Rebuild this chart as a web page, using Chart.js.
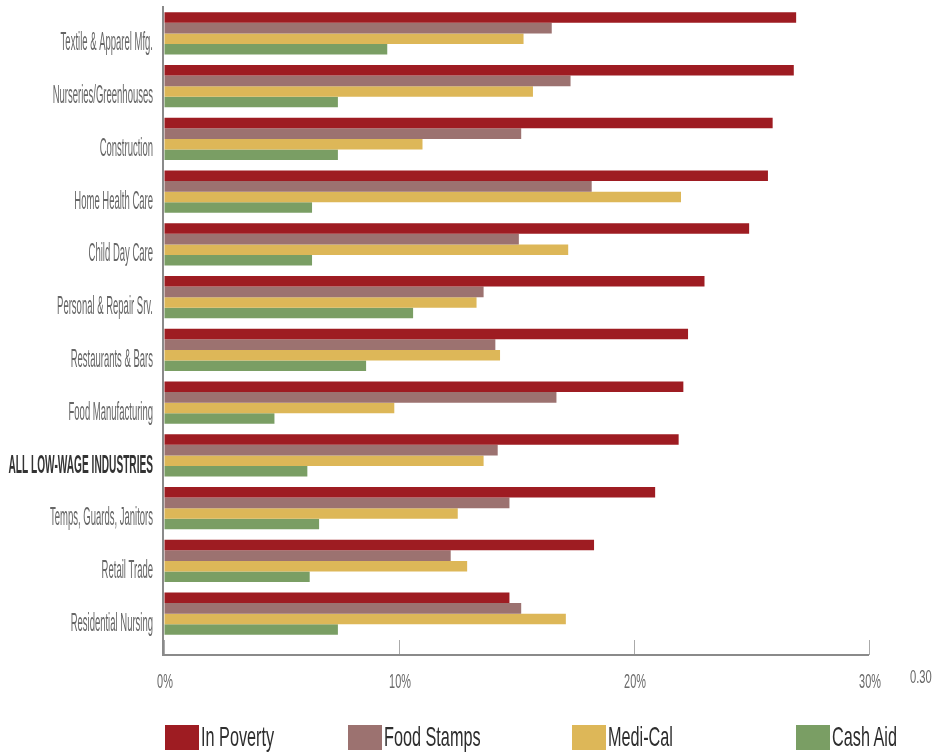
<!DOCTYPE html>
<html>
<head>
<meta charset="utf-8">
<script src="https://cdn.jsdelivr.net/npm/chart.js@4/dist/chart.umd.min.js"></script>
<style>
  html, body { margin: 0; padding: 0; background: #fff; }
  #wrap { position: relative; width: 934px; height: 755px; overflow: hidden; }
  #chart { position: absolute; left: 0; top: 0; }
  .legend-box { position: absolute; top: 725px; width: 34px; height: 25px; }
  .legend-text { position: absolute; top: 723px; line-height: 28px; white-space: nowrap;
    font-family: "Liberation Sans", Arial, sans-serif; font-size: 28px; color: #2e2e2e;
    transform: scaleX(0.58); transform-origin: left center; }
</style>
</head>
<body>
<div id="wrap">
  <canvas id="chart" width="934" height="755"></canvas>
  <div id="legend"></div>
</div>
<script>
// Data
const industries = [
  "Textile & Apparel Mfg.",
  "Nurseries/Greenhouses",
  "Construction",
  "Home Health Care",
  "Child Day Care",
  "Personal & Repair Srv.",
  "Restaurants & Bars",
  "Food Manufacturing",
  "ALL LOW-WAGE INDUSTRIES",
  "Temps, Guards, Janitors",
  "Retail Trade",
  "Residential Nursing"
];
const inPoverty  = [0.269, 0.268, 0.259, 0.257, 0.249, 0.230, 0.223, 0.221, 0.219, 0.209, 0.183, 0.147];
const foodStamps = [0.165, 0.173, 0.152, 0.182, 0.151, 0.136, 0.141, 0.167, 0.142, 0.147, 0.122, 0.152];
const mediCal    = [0.153, 0.157, 0.110, 0.220, 0.172, 0.133, 0.143, 0.098, 0.136, 0.125, 0.129, 0.171];
const cashAid    = [0.095, 0.074, 0.074, 0.063, 0.063, 0.106, 0.086, 0.047, 0.061, 0.066, 0.062, 0.074];
const xTickMax = 0.30;
const axisMaxLabel = "0.30";
const boldLabel = "ALL LOW-WAGE INDUSTRIES";

const FONT = "'Liberation Sans', Arial, sans-serif";

// Draw text squeezed horizontally (the original uses a very narrow typeface)
function drawNarrow(ctx, text, x, y, align, font, color, sx) {
  ctx.save();
  ctx.translate(x, y);
  ctx.scale(sx, 1);
  ctx.font = font;
  ctx.fillStyle = color;
  ctx.textAlign = align;
  ctx.textBaseline = "alphabetic";
  ctx.fillText(text, 0, 0);
  ctx.restore();
}

// Axis lines, tick labels and the extra max label
const axisLines = {
  id: "axisLines",
  afterDraw(chart) {
    const { ctx, chartArea, scales } = chart;
    const base = chartArea.bottom + 15;
    ctx.save();
    ctx.strokeStyle = "#8a8a8a";
    ctx.lineWidth = 2;
    ctx.beginPath();
    ctx.moveTo(chartArea.left - 1, chartArea.top - 1);
    ctx.lineTo(chartArea.left - 1, base);
    ctx.lineTo(chartArea.right, base);
    ctx.stroke();
    ctx.restore();

    // category labels
    const y = scales.y;
    y.ticks.forEach((t, i) => {
      const label = chart.data.labels[i];
      const py = y.getPixelForTick(i) + 17;
      if (label === boldLabel) {
        drawNarrow(ctx, label, y.right - 11, py + 1, "right", "bold 26px " + FONT, "#333", 0.39);
      } else {
        drawNarrow(ctx, label, y.right - 11, py, "right", "25px " + FONT, "#666", 0.38);
      }
    });

    // value labels
    const x = scales.x;
    x.ticks.forEach((t, i) => {
      const px = x.getPixelForTick(i);
      const text = Math.round(t.value * 100) + "%";
      drawNarrow(ctx, text, px + 1, base + 33, "center", "21px " + FONT, "#6a6a6a", 0.52);
    });
    drawNarrow(ctx, axisMaxLabel, chartArea.right + 41, base + 28, "left", "18px " + FONT, "#666", 0.62);
  }
};

const series = [
  { label: "In Poverty", data: inPoverty, color: "#9E1C22" },
  { label: "Food Stamps", data: foodStamps, color: "#9C7270" },
  { label: "Medi-Cal", data: mediCal, color: "#DDB758" },
  { label: "Cash Aid", data: cashAid, color: "#7A9E64" }
];

const chart = new Chart(document.getElementById("chart"), {
  type: "bar",
  data: {
    labels: industries,
    datasets: series.map((s) => ({
      label: s.label,
      data: s.data,
      backgroundColor: s.color,
      borderWidth: 0,
      barPercentage: 1,
      categoryPercentage: 0.8,
    })),
  },
  options: {
    indexAxis: "y",
    responsive: false,
    animation: false,
    layout: { padding: { top: 7, right: 65, left: 0, bottom: 0 } },
    plugins: {
      legend: { display: false },
      tooltip: { enabled: false },
    },
    scales: {
      x: {
        min: 0,
        max: xTickMax,
        ticks: { stepSize: 0.1, display: false },
        grid: {
          drawOnChartArea: false,
          drawTicks: true,
          tickLength: 15,
          color: "#aaa",
        },
        border: { display: false },
        afterFit: (s) => { s.height = 115; },
      },
      y: {
        ticks: { display: false },
        grid: { display: false },
        border: { display: false },
        afterFit: (s) => { s.width = 164; },
      },
    },
  },
  plugins: [axisLines],
});

// HTML legend below the chart
const legendLeft = [165, 348, 572, 796];
const legend = document.getElementById("legend");
chart.data.datasets.forEach((ds, i) => {
  const box = document.createElement("div");
  box.className = "legend-box";
  box.style.left = legendLeft[i] + "px";
  box.style.background = ds.backgroundColor;
  const text = document.createElement("div");
  text.className = "legend-text";
  text.style.left = (legendLeft[i] + 36) + "px";
  text.textContent = ds.label;
  legend.appendChild(box);
  legend.appendChild(text);
});
</script>
</body>
</html>
